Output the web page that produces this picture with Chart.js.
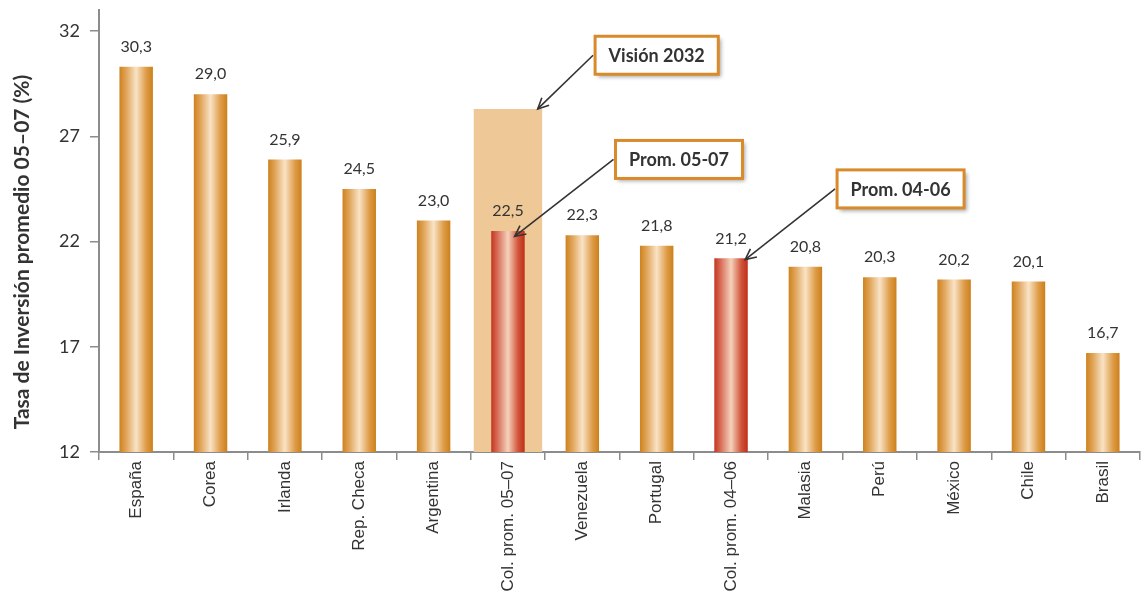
<!DOCTYPE html>
<html>
<head>
<meta charset="utf-8">
<script src="https://cdn.jsdelivr.net/npm/chart.js@4.4.1/dist/chart.umd.min.js"></script>
<style>
html,body{margin:0;padding:0;background:#fff;}
#wrap{width:1144px;height:595px;position:relative;}
</style>
</head>
<body>
<div id="wrap"><canvas id="c" width="1144" height="595"></canvas></div>
<script>
const categories = ["España","Corea","Irlanda","Rep. Checa","Argentina","Col. prom. 05–07","Venezuela","Portugal","Col. prom. 04–06","Malasia","Perú","México","Chile","Brasil"];
const values = [30.3,29.0,25.9,24.5,23.0,22.5,22.3,21.8,21.2,20.8,20.3,20.2,20.1,16.7];
const vision2032 = [null,null,null,null,null,28.3,null,null,null,null,null,null,null,null];
const highlighted = ["Col. prom. 05–07","Col. prom. 04–06"];
const yTicks = [12,17,22,27,32];
const yTitle = "Tasa de Inversión promedio 05–07 (%)";
const callouts = [
  {text:"Visión 2032", boxIndex:7.0, boxValue:30.85, targetIndex:5.40, targetValue:28.3},
  {text:"Prom. 05-07", boxIndex:7.3, boxValue:25.9, targetIndex:5.09, targetValue:22.24},
  {text:"Prom. 04-06", boxIndex:10.28, boxValue:24.5, targetIndex:8.19, targetValue:21.14}
];

const FONT = "Lato, 'Open Sans', sans-serif";
const XFONT = "'Liberation Sans', Arial, sans-serif";
const BAR_PCT = 0.45;
const VISION_PCT = 0.92;

function fmt(v){ return v.toFixed(1).replace('.', ','); }

function barGradient(ctx, red){
  const chart = ctx.chart;
  const xs = chart.scales.x;
  if (!xs || !chart.chartArea) return red ? '#C8402A' : '#D38B2C';
  const cw = (xs.right - xs.left) / categories.length;
  const cx = xs.left + (ctx.dataIndex + 0.5) * cw;
  const w = cw * BAR_PCT;
  const g = chart.ctx.createLinearGradient(cx - w/2, 0, cx + w/2, 0);
  if (red){
    g.addColorStop(0, '#C3361F');
    g.addColorStop(0.2, '#D9705A');
    g.addColorStop(0.5, '#F5D2BC');
    g.addColorStop(0.8, '#D2563C');
    g.addColorStop(1, '#BE2F18');
  } else {
    g.addColorStop(0, '#CE821E');
    g.addColorStop(0.2, '#E0A458');
    g.addColorStop(0.5, '#F9E3C6');
    g.addColorStop(0.8, '#DE9C48');
    g.addColorStop(1, '#CC7F1A');
  }
  return g;
}

const labelPlugin = {
  id: 'labels',
  afterDatasetsDraw(chart){
    const c = chart.ctx;
    const meta = chart.getDatasetMeta(0);
    c.save();
    c.font = "16px " + FONT;
    c.fillStyle = '#333';
    c.textAlign = 'center';
    c.textBaseline = 'bottom';
    meta.data.forEach((el, i) => {
      c.fillText(fmt(values[i]), el.x, el.y - 12);
    });
    c.restore();
  },
  afterDraw(chart){
    const c = chart.ctx;
    const xs = chart.scales.x, ys = chart.scales.y;
    const ca = chart.chartArea;
    c.save();
    c.translate(22, (ca.top + ca.bottom) / 2 + 21);
    c.rotate(-Math.PI / 2);
    c.font = "bold 21px " + FONT;
    c.fillStyle = '#333';
    c.textAlign = 'center'; c.textBaseline = 'middle';
    c.fillText(yTitle, 0, 0);
    c.restore();

    const cw = (xs.right - xs.left) / categories.length;
    const px = idx => xs.left + (idx + 0.5) * cw;
    callouts.forEach(co => {
      c.save();
      c.font = "bold 18px " + FONT;
      const tw = c.measureText(co.text).width;
      const bw = tw + 27, bh = 38;
      const bx = px(co.boxIndex), by = ys.getPixelForValue(co.boxValue);
      const x0 = bx - bw/2, y0 = by - bh/2;
      const sx = x0 - 2, sy = by;
      const tx = px(co.targetIndex), ty = ys.getPixelForValue(co.targetValue);
      c.strokeStyle = '#333';
      c.lineWidth = 1.6;
      c.beginPath(); c.moveTo(sx, sy); c.lineTo(tx, ty); c.stroke();
      const ang = Math.atan2(ty - sy, tx - sx);
      const ah = 12, aw = 0.45;
      c.beginPath();
      c.moveTo(tx - ah*Math.cos(ang - aw), ty - ah*Math.sin(ang - aw));
      c.lineTo(tx, ty);
      c.lineTo(tx - ah*Math.cos(ang + aw), ty - ah*Math.sin(ang + aw));
      c.stroke();
      c.shadowColor = 'rgba(0,0,0,0.35)';
      c.shadowBlur = 4; c.shadowOffsetX = 3; c.shadowOffsetY = 3;
      c.fillStyle = '#fff';
      c.fillRect(x0, y0, bw, bh);
      c.shadowColor = 'transparent';
      c.lineWidth = 3;
      c.strokeStyle = '#D98B2B';
      c.strokeRect(x0, y0, bw, bh);
      c.fillStyle = '#333';
      c.textAlign = 'center'; c.textBaseline = 'middle';
      c.fillText(co.text, bx, by + 1);
      c.restore();
    });
  }
};

new Chart(document.getElementById('c'), {
  type: 'bar',
  data: {
    labels: categories,
    datasets: [
      {
        data: values,
        order: 1,
        grouped: false,
        barPercentage: BAR_PCT,
        categoryPercentage: 1,
        backgroundColor: ctx => barGradient(ctx, highlighted.includes(categories[ctx.dataIndex])),
        borderWidth: 0
      },
      {
        data: vision2032,
        order: 2,
        grouped: false,
        barPercentage: VISION_PCT,
        categoryPercentage: 1,
        backgroundColor: '#EFC898',
        borderWidth: 0
      }
    ]
  },
  options: {
    responsive: false,
    animation: false,
    layout: { padding: { top: 10, right: 4, left: 0, bottom: 0 } },
    plugins: { legend: { display: false }, tooltip: { enabled: false } },
    scales: {
      x: {
        offset: true,
        grid: { display: true, drawOnChartArea: false, offset: true, tickLength: 8, color: '#8C8C8C', lineWidth: 1.5 },
        border: { display: true, color: '#8C8C8C', width: 2 },
        ticks: { autoSkip: false, maxRotation: 90, minRotation: 90, color: '#333', font: { family: XFONT, size: 17 }, padding: 1 },
        afterFit(scale){ scale.height = 143; scale.paddingLeft = 0; scale.paddingRight = 0; }
      },
      y: {
        min: 12, max: 33,
        grid: { display: true, drawOnChartArea: false, tickLength: 9, color: '#8C8C8C', lineWidth: 1.5 },
        border: { display: true, color: '#8C8C8C', width: 2 },
        afterBuildTicks(scale){ scale.ticks = yTicks.map(v => ({ value: v })); },
        ticks: { color: '#333', font: { family: FONT, size: 18 }, padding: 10 },
        afterFit(scale){ scale.width = 99; scale.paddingTop = 0; scale.paddingBottom = 0; }
      }
    }
  },
  plugins: [labelPlugin]
});
</script>
</body>
</html>
